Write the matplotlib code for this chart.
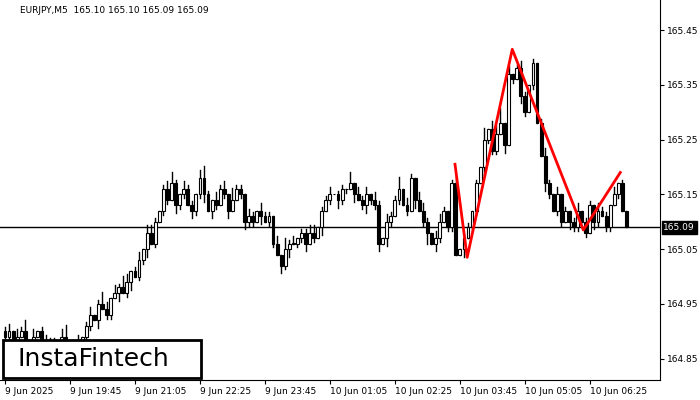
import numpy as np
import matplotlib
matplotlib.use("Agg")
import matplotlib.pyplot as plt
from matplotlib.patches import Rectangle

closes = [164.89,164.90,164.88,164.89,164.90,164.88,164.87,164.89,164.90,164.88,164.87,164.88,164.86,164.87,164.89,164.88,164.87,164.86,164.88,164.89,
          164.91,164.93,164.92,164.95,164.94,164.93,164.96,164.97,164.98,164.97,164.99,165.01,165.00,165.03,165.05,165.08,165.06,165.10,165.12,165.16,
          165.14,165.17,165.13,165.15,165.16,165.13,165.12,165.15,165.18,165.15,165.12,165.14,165.13,165.16,165.15,165.12,165.14,165.16,165.15,165.10,
          165.11,165.10,165.12,165.11,165.10,165.11,165.06,165.04,165.02,165.05,165.06,165.06,165.07,165.08,165.06,165.08,165.07,165.09,165.12,165.14,
          165.15,165.15,165.14,165.16,165.16,165.17,165.15,165.14,165.13,165.15,165.14,165.13,165.06,165.07,165.10,165.11,165.14,165.16,165.13,165.12,
          165.18,165.14,165.12,165.10,165.08,165.06,165.07,165.10,165.12,165.09,165.17,165.04,165.05,165.07,165.09,165.12,165.17,165.20,165.25,165.27,
          165.23,165.26,165.28,165.24,165.37,165.36,165.38,165.33,165.30,165.35,165.39,165.28,165.22,165.17,165.15,165.12,165.15,165.10,165.12,165.10,
          165.09,165.12,165.10,165.08,165.13,165.10,165.12,165.11,165.09,165.13,165.15,165.17,165.12,165.09]
# wick sizes above / below the body, in units of 0.007 yen
up_wick = ("1202130201" "2110230120" "1201320213" "2012022101" "2310211023" "1021203110" "2102110203" "1201122011"
           "2011030212" "0210211302" "1022102210" "1201101030" "2240201210" "1012102010" "1201102110" "2010")
dn_wick = ("1102011201" "1021102011" "2102011020" "1201120101" "1021102112" "0210120012" "1102011021" "2011201020"
           "1021102012" "1120210101" "0201302101" "1002011021" "1102010210" "1002101102" "1101021011" "0100")
pattern_i = [110.8, 113.8, 124.9, 142.4, 151.5]
pattern_p = [165.205, 165.035, 165.415, 165.085, 165.190]
last_price = 165.09
yticks = [164.85, 164.95, 165.05, 165.15, 165.25, 165.35, 165.45]
xtick_i = [0, 16, 32, 48, 64, 80, 96, 112, 128, 144]
xtick_labels = ["9 Jun 2025", "9 Jun 19:45", "9 Jun 21:05", "9 Jun 22:25", "9 Jun 23:45",
                "10 Jun 01:05", "10 Jun 02:25", "10 Jun 03:45", "10 Jun 05:05", "10 Jun 06:25"]

fig = plt.figure(figsize=(7, 4), dpi=100)
ax = fig.add_axes([0.0, 0.05, 0.943, 0.95])
opens = [closes[0] + 0.01] + closes[:-1]
for i, (o, c) in enumerate(zip(opens, closes)):
    hi = max(o, c) + int(up_wick[i]) * 0.007
    lo = min(o, c) - int(dn_wick[i]) * 0.007
    ax.plot([i, i], [lo, hi], color="black", lw=1)
    h = abs(c - o) if abs(c - o) > 0 else 0.0005
    ax.add_patch(Rectangle((i - 0.35, min(o, c)), 0.7, h, lw=0.8,
                           edgecolor="black", facecolor="white" if c >= o else "black", zorder=3))
ax.axhline(last_price, color="black", lw=1, zorder=1)
ax.plot(pattern_i, pattern_p, color="red", lw=2, zorder=4)

ax.set_xlim(-1.23, 161.3)
ax.set_ylim(164.811, 165.505)
ax.yaxis.tick_right()
ax.set_yticks(yticks)
ax.set_yticklabels([f"{v:.2f}" for v in yticks], fontsize=6.5)
ax.set_xticks(xtick_i)
ax.set_xticklabels(xtick_labels, fontsize=6.5)
ax.tick_params(length=3, width=0.8, pad=2)
for lbl in ax.get_xticklabels():
    lbl.set_horizontalalignment("left")
for s in ["top", "left"]:
    ax.spines[s].set_visible(False)
ax.text(1.005, (last_price - 164.811) / (165.505 - 164.811), f"{last_price:.2f}", transform=ax.transAxes,
        fontsize=6.5, color="white", va="center", ha="left",
        bbox=dict(boxstyle="square,pad=0.2", facecolor="black", edgecolor="black"))
ax.text(0.03, 0.985, "EURJPY,M5  165.10 165.10 165.09 165.09", transform=ax.transAxes,
        fontsize=6.5, va="top", ha="left")
fig.patches.append(Rectangle((3 / 700, 22 / 400), 198 / 700, 38 / 400, transform=fig.transFigure,
                             facecolor="white", edgecolor="black", lw=2, zorder=10))
fig.text(93 / 700, 41 / 400, "InstaFintech", fontsize=18, ha="center", va="center", zorder=11)
fig.savefig("out.png", dpi=100)
